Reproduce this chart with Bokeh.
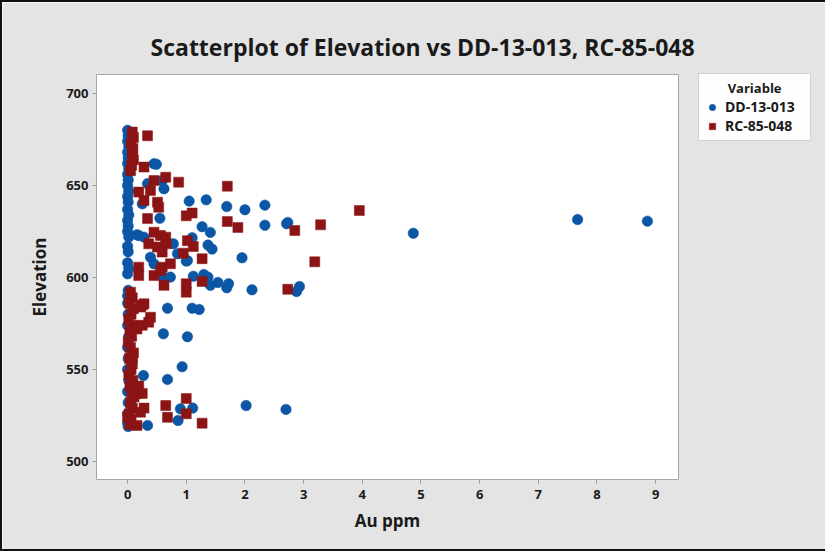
from bokeh.plotting import figure
from bokeh.models import Legend, LegendItem, FixedTicker, Title
from bokeh.embed import file_html
from bokeh.resources import INLINE

# DD-13-013 (blue circles)
dd_x = [0.00, 0.01, 0.00, 0.02, 0.00, 0.01, 0.00, 0.02, 0.00, 0.01,
        0.00, 0.02, 0.00, 0.01, 0.00, 0.02, 0.00, 0.01, 0.00, 0.02,
        0.00, 0.01, 0.00, 0.02, 0.00, 0.01, 0.00, 0.00, 0.01, 0.00,
        0.02, 0.00, 0.01, 0.00, 0.02, 0.00, 0.01, 0.00, 0.00, 0.01,
        0.45, 0.49, 0.34, 0.59, 0.62, 0.25, 0.55, 0.19, 0.28, 0.16,
        0.39, 0.45, 0.62, 0.73, 0.78, 0.85, 1.02,
        1.05, 1.34, 1.69, 2.00, 2.34, 1.27, 1.41, 2.34, 2.71, 2.73,
        1.10, 1.37, 1.44, 1.00, 1.95, 1.12, 1.30, 1.37, 1.41, 1.54,
        1.69, 1.72, 2.12, 2.88, 2.93, 1.10, 1.22, 0.68, 1.02, 0.61,
        0.93, 0.27, 0.68, 1.11, 0.90, 2.02, 2.70, 0.86, 0.34,
        4.87, 7.67, 8.86]
dd_y = [680, 677, 674, 671, 668, 665, 662, 659, 656, 653,
        650, 647, 644, 641, 637, 634, 631, 628, 625, 622,
        617, 614, 608, 605, 602, 593, 590, 586, 580, 574,
        568, 562, 556, 550, 544, 538, 532, 526, 521, 519,
        661.8, 661.5, 651.0, 652.7, 648.2, 640.0, 632.2, 622.8, 621.9, 623.2,
        611.0, 607.4, 600.0, 600.2, 618.3, 612.9, 609.2,
        641.5, 642.2, 638.6, 636.8, 639.3, 627.6, 624.5, 628.4, 629.2, 629.9,
        621.6, 617.6, 615.4, 608.9, 610.7, 600.7, 601.6, 600.2, 595.7, 597.3,
        594.4, 596.6, 593.3, 592.4, 595.1, 583.3, 582.6, 583.3, 567.8, 569.4,
        551.5, 546.7, 544.6, 529.0, 528.6, 530.4, 528.3, 522.3, 519.6,
        624.0, 631.5, 630.6]

# RC-85-048 (red squares)
rc_x = [0.08, 0.10, 0.06, 0.09, 0.08, 0.10, 0.07, 0.05,
        0.34, 0.28, 0.65, 0.45, 0.87, 0.19, 0.28, 0.39, 0.51, 0.53, 0.34,
        1.70, 1.00, 1.10, 0.45, 0.56, 0.65, 0.36, 0.51, 0.59, 0.66, 0.19,
        0.19, 0.45, 0.59, 0.73, 0.56, 0.62, 0.95, 1.12, 1.27, 1.70,
        1.88, 2.85, 3.29, 3.95, 3.19, 1.27, 1.00, 1.00, 2.73, 1.02,
        0.05, 0.08, 0.03, 0.10, 0.06, 0.02, 0.09, 0.04, 0.07, 0.01,
        0.05, 0.10, 0.03, 0.08, 0.06, 0.02, 0.09, 0.04, 0.07, 0.11,
        0.05, 0.08, 0.03, 0.06, 0.04,
        0.25, 0.28, 0.22, 0.39, 0.25, 0.16, 0.36, 0.08, 0.19, 0.25,
        0.14, 0.28, 0.22, 0.65, 0.68, 1.00, 1.00, 1.27, 0.16, 0.00]
rc_y = [679, 676, 673, 670, 667, 664, 661, 658,
        677.0, 660.0, 654.5, 652.7, 651.8, 646.4, 641.8, 647.3, 640.9, 638.2, 632.0,
        649.6, 633.5, 635.0, 624.6, 622.8, 621.9, 618.3, 616.5, 613.8, 618.3, 605.6,
        601.0, 601.0, 605.6, 607.4, 603.8, 595.7, 613.2, 616.8, 610.2, 630.4,
        627.2, 625.5, 628.6, 636.4, 608.5, 597.8, 596.6, 592.0, 593.6, 620.0,
        592, 589, 586, 583, 580, 577, 574, 571, 568, 565,
        562, 559, 556, 553, 550, 547, 544, 541, 538, 535,
        532, 529, 526, 523, 520,
        585.0, 585.7, 583.9, 578.4, 574.0, 572.0, 575.7, 556.0, 541.0, 537.0,
        536.8, 529.0, 526.8, 530.4, 524.0, 534.2, 525.9, 520.8, 519.6, 524.1]

x_ticks = [0, 1, 2, 3, 4, 5, 6, 7, 8, 9]
y_ticks = [500, 550, 600, 650, 700]
series_names = ["DD-13-013", "RC-85-048"]

FONT = "Open Sans"
TXT = "#1a1a1a"

p = figure(output_backend="svg", toolbar_location=None,
           x_range=(-0.53, 9.39), y_range=(490.2, 710.3),
           frame_width=582, frame_height=405,
           min_border_left=94, min_border_top=72, min_border_right=139,
           min_border_bottom=70)
p.background_fill_color = "white"
p.border_fill_color = "#e4e4e4"
p.outline_line_color = "#a6a6a6"
p.outline_line_width = 1
p.grid.visible = False
p.styles = {"border-left": "2px solid #111", "border-top": "2px solid #111",
            "border-bottom": "2px solid #111"}

title = Title(text="Scatterplot of Elevation vs DD-13-013, RC-85-048",
              text_font=FONT, text_font_size="23px", text_font_style="bold",
              text_color=TXT, align="left", offset=54, standoff=23)
p.add_layout(title, "above")

r1 = p.scatter(dd_x, dd_y, marker="circle", size=10.5, fill_color="#0b56a5",
               line_color="#0b56a5", line_width=0.5)
r2 = p.scatter(rc_x, rc_y, marker="square", size=10, fill_color="#8c1414",
               line_color="#8c1414", line_width=0.5)

for ax in (p.xaxis[0], p.yaxis[0]):
    ax.axis_line_color = None
    ax.major_tick_line_color = "#9a9a9a"
    ax.major_tick_out = 4
    ax.major_tick_in = 0
    ax.minor_tick_line_color = None
    ax.major_label_text_font = FONT
    ax.major_label_text_font_size = "13px"
    ax.major_label_text_font_style = "bold"
    ax.major_label_text_color = TXT
    ax.axis_label_text_font = FONT
    ax.axis_label_text_font_size = "17px"
    ax.axis_label_text_font_style = "bold"
    ax.axis_label_text_color = TXT

p.xaxis[0].ticker = FixedTicker(ticks=x_ticks)
p.yaxis[0].ticker = FixedTicker(ticks=y_ticks)
p.xaxis[0].axis_label = "Au ppm"
p.yaxis[0].axis_label = "Elevation"
p.xaxis[0].major_label_standoff = 6
p.xaxis[0].axis_label_standoff = 7
p.yaxis[0].major_label_standoff = 4
p.yaxis[0].axis_label_standoff = 12

legend = Legend(items=[LegendItem(label=series_names[0], renderers=[r1]),
                       LegendItem(label=series_names[1], renderers=[r2])],
                title="       Variable", location=(20, 338))
legend.title_text_font = FONT
legend.title_text_font_size = "13px"
legend.title_text_font_style = "bold"
legend.title_text_color = TXT
legend.title_standoff = 0
legend.label_text_font = FONT
legend.label_text_font_size = "14px"
legend.label_text_font_style = "bold"
legend.label_text_color = TXT
legend.label_height = 18
legend.glyph_height = 18
legend.glyph_width = 16
legend.label_width = 80
legend.label_standoff = 5
legend.spacing = 0
legend.padding = 5
legend.margin = 0
legend.border_line_color = "#a6a6a6"
legend.background_fill_color = "white"
p.add_layout(legend, "right")

open("out.html", "w").write(file_html(p, INLINE))
